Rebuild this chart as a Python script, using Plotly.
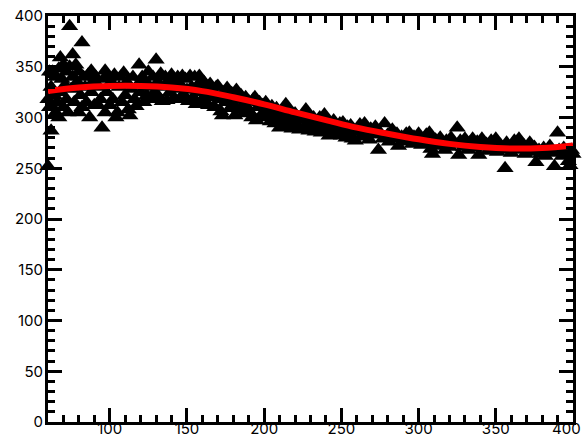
import plotly.graph_objects as go

# Measured samples (x, y)
sample_x = [
    60, 60, 61, 61, 62, 62, 63, 63, 64, 65, 65, 66, 67, 67, 68, 68, 69, 70, 70, 71,
    72, 72, 73, 74, 74, 75, 76, 76, 77, 78, 79, 80, 80, 81, 82, 82, 83, 84, 85, 86,
    87, 88, 88, 89, 90, 91, 92, 93, 94, 95, 96, 97, 97, 98, 99, 100,
    101, 102, 103, 104, 105, 106, 107, 108, 109, 110, 111, 112, 113, 114, 115, 116,
    117, 118, 119, 120, 121, 122, 123, 124, 125, 126, 127, 128, 129, 130, 131, 132,
    133, 134, 135, 136, 137, 138, 139, 140,
    141, 142, 143, 144, 145, 146, 147, 148, 149, 150, 151, 152, 153, 154, 155, 156,
    157, 158, 159, 160, 161, 162, 163, 164, 165, 166, 167, 168, 169, 170, 171, 172,
    173, 174, 175, 176, 177, 178, 179, 180, 181, 182, 183, 184, 185, 186, 187, 188,
    189, 190, 191, 192, 193, 194, 195, 196, 197, 198, 199, 200,
    201, 202, 203, 204, 205, 206, 207, 208, 209, 210, 211, 212, 213, 214, 215, 216,
    217, 218, 219, 220, 221, 222, 223, 224, 225, 226, 227, 228, 229, 230, 231, 232,
    233, 234, 235, 236, 237, 238, 239, 240, 241, 242, 243, 244, 245, 246, 247, 248,
    249, 250, 251, 252, 253, 254, 255, 256, 257, 258, 259, 260,
    262, 263, 265, 266, 268, 269, 271, 272, 274, 275, 277, 278, 280, 281, 283, 284,
    286, 287, 289, 290, 292, 293, 294, 296, 297, 299, 300, 302, 303, 305, 306, 307,
    308, 309, 311, 312, 314, 315, 317, 318, 320,
    321, 323, 325, 326, 327, 329, 330, 332, 333, 335, 336, 338, 339, 341, 342, 344,
    345, 347, 348, 350, 351, 353, 354, 356, 357, 359, 360, 362, 363, 365, 366, 368,
    369, 371, 372, 374, 375, 376, 378, 379, 381, 382, 384, 385, 387, 388, 390, 391,
    393, 394, 396, 397, 398, 399, 400,
]
sample_y = [
    252, 318, 345, 310, 287, 330, 310, 345, 322, 305, 340, 315, 348, 300, 359, 325, 338, 310, 352, 332,
    345, 318, 305, 390, 350, 328, 362, 340, 315, 352, 335, 305, 345, 322, 374, 310, 340, 330, 315, 342,
    300, 346, 325, 335, 312, 340, 313, 330, 318, 290, 338, 346, 305, 325, 340, 312,
    335, 318, 342, 300, 305, 330, 340, 315, 344, 322, 335, 308, 302, 328, 340, 318,
    311, 332, 352, 325, 340, 315, 336, 322, 345, 330, 318, 340, 325, 357, 335, 320,
    343, 316, 330, 340, 317, 335, 325, 342,
    318, 336, 328, 340, 318, 332, 341, 322, 338, 327, 316, 341, 330, 320, 340, 313,
    332, 341, 325, 315, 335, 322, 330, 312, 333, 320, 326, 310, 330, 331, 318, 306,
    302, 325, 315, 329, 320, 309, 324, 313, 302, 327, 318, 308, 322, 312, 304, 320,
    310, 316, 305, 300, 318, 320, 297, 310, 315, 302, 312, 306,
    315, 300, 308, 296, 311, 303, 294, 309, 299, 290, 306, 296, 303, 313, 292, 300,
    306, 289, 298, 304, 293, 300, 288, 298, 289, 302, 308, 294, 287, 299, 291, 300,
    286, 296, 290, 300, 285, 294, 303, 288, 296, 282, 292, 286, 297, 283, 291, 287,
    294, 282, 295, 287, 280, 291, 284, 292, 279, 288, 277, 286,
    293, 281, 294, 285, 278, 289, 283, 291, 268, 285, 279, 294, 283, 276, 288, 279,
    284, 272, 281, 276, 284, 278, 285, 274, 281, 277, 284, 273, 279, 283, 275, 285,
    269, 264, 278, 272, 280, 274, 268, 277, 271,
    280, 274, 290, 263, 277, 271, 279, 268, 275, 279, 270, 276, 263, 279, 271, 274,
    267, 277, 270, 279, 266, 273, 268, 250, 275, 270, 265, 277, 271, 279, 268, 273,
    264, 270, 275, 266, 271, 256, 268, 264, 270, 262, 267, 272, 265, 252, 285, 268,
    262, 270, 264, 257, 253, 268, 264,
]

# Smooth fitted trend
fit_x = [60, 80, 100, 120, 140, 160, 180, 200, 220, 240, 260, 280, 300, 320, 340, 360, 380, 400]
fit_y = [326, 329.5, 331, 331, 329.5, 326, 320, 313, 305, 297.5, 290, 284, 278.5, 274, 271, 269.5, 270, 272.5]

x_ticks = [100, 150, 200, 250, 300, 350]
x_edge_tick = 400  # labelled separately so it stays inside the page
y_ticks = [0, 50, 100, 150, 200, 250, 300, 350, 400]

label_font = dict(family="Inter, Liberation Sans, Arial", size=15, color="black")

fig = go.Figure()
fig.add_trace(go.Scatter(
    x=sample_x, y=sample_y, mode="markers",
    marker=dict(symbol="triangle-up", size=15, color="black", line=dict(width=0)),
    cliponaxis=False, showlegend=False,
))
fig.add_trace(go.Scatter(
    x=fit_x, y=fit_y, mode="lines",
    line=dict(color="#ff0000", width=6, shape="spline"),
    cliponaxis=False, showlegend=False,
))

axis_common = dict(
    showline=True, linecolor="black", linewidth=3, mirror="ticks",
    ticks="inside", ticklen=14, tickwidth=3, tickcolor="black",
    showgrid=False, zeroline=False,
    tickfont=label_font,
    minor=dict(ticks="inside", ticklen=7, tickwidth=3, tickcolor="black", dtick=10, showgrid=False),
    automargin=False, ticklabeloverflow="allow",
)

fig.update_xaxes(range=[60, 400], tickvals=x_ticks, ticklabelstandoff=-9, **axis_common)
fig.update_yaxes(range=[0, 400], tickvals=y_ticks, ticklabelstandoff=-1, **axis_common)

fig.add_annotation(
    x=x_edge_tick, y=0, xref="x", yref="y", text=str(x_edge_tick),
    showarrow=False, font=label_font, xanchor="right", yanchor="top",
    xshift=10, yshift=5,
)

fig.update_layout(
    width=584, height=438,
    margin=dict(l=48, r=11, t=16, b=16),
    paper_bgcolor="white", plot_bgcolor="white",
)

fig.write_html("out.html")
